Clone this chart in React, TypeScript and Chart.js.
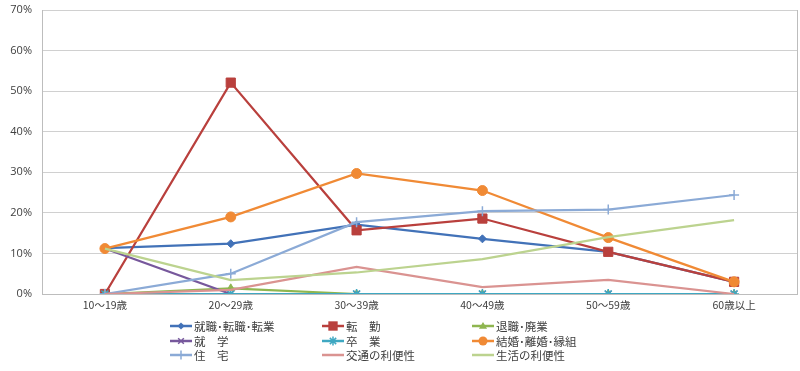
import React, { useEffect, useRef } from "react";
import { Chart, registerables } from "chart.js";

Chart.register(...registerables);

const categories = ["10～19歳", "20～29歳", "30～39歳", "40～49歳", "50～59歳", "60歳以上"];
const seriesNames = ["就職･転職･転業", "転　勤", "退職･廃業", "就　学", "卒　業", "結婚･離婚･縁組", "住　宅", "交通の利便性", "生活の利便性"];
const shushoku = [11.3, 12.4, 17.1, 13.6, 10.4, 3.0];
const tenkin = [0, 52.1, 15.7, 18.6, 10.4, 3.0];
const taishoku = [0, 1.4, 0, 0, 0, 0];
const shugaku = [11.2, 0, 0, 0, 0, 0];
const sotsugyo = [0, 0, 0, 0, 0, 0];
const kekkon = [11.2, 19.0, 29.7, 25.5, 13.9, 3.0];
const jutaku = [0, 5.0, 17.7, 20.4, 20.8, 24.4];
const kotsu = [0, 1.0, 6.7, 1.7, 3.5, 0];
const seikatsu = [11.2, 3.4, 5.3, 8.6, 14.0, 18.2];
const yTicks = [0, 10, 20, 30, 40, 50, 60, 70];

const seriesValues = [shushoku, tenkin, taishoku, shugaku, sotsugyo, kekkon, jutaku, kotsu, seikatsu];
const colors = ["#4272B8", "#B9403D", "#8FB650", "#77589C", "#3FA8C2", "#F08A35", "#8BAAD6", "#DA9391", "#BCD38F"];
const pointStyles: any[] = ["rectRot", "rect", "triangle", "crossRot", "star", "circle", "cross", false, false];
const radii = [4, 6.5, 4.5, 4.5, 5, 5, 5, 0, 0];

export default function App() {
  const ref = useRef<HTMLCanvasElement | null>(null);
  useEffect(() => {
    if (!ref.current) return;
    const borderPlugin = {
      id: "frame",
      beforeDatasetsDraw(chart: any) {
        const { ctx, chartArea: a } = chart;
        ctx.save();
        ctx.strokeStyle = "#BDBDBD";
        ctx.lineWidth = 1;
        ctx.beginPath();
        ctx.moveTo(a.right + 0.5, a.top);
        ctx.lineTo(a.right + 0.5, a.bottom);
        ctx.stroke();
        ctx.restore();
      },
      afterDraw(chart: any) {
        const { ctx } = chart;
        ctx.save();
        const colX = [170, 322, 472];
        const rowY = [326, 341, 355];
        ctx.font = "11.5px 'Noto Sans CJK JP'";
        ctx.textBaseline = "middle";
        seriesNames.forEach((name, i) => {
          const x = colX[i % 3];
          const y = rowY[Math.floor(i / 3)];
          ctx.strokeStyle = colors[i];
          ctx.lineWidth = 2.5;
          ctx.beginPath();
          ctx.moveTo(x, y);
          ctx.lineTo(x + 22, y);
          ctx.stroke();
          if (pointStyles[i]) {
            drawPt(ctx, pointStyles[i], pointStyles[i] === "rect" ? 5.5 : radii[i] * 0.9, x + 11, y, colors[i]);
          }
          ctx.fillStyle = "#404040";
          ctx.fillText(name, x + 24, y + 0.5);
        });
        ctx.restore();
      },
    };
    const chart = new Chart(ref.current, {
      type: "line",
      data: {
        labels: categories,
        datasets: seriesValues.map((vals, i) => ({
          label: seriesNames[i],
          data: vals,
          borderColor: colors[i],
          backgroundColor: colors[i],
          borderWidth: 2.25,
          pointStyle: pointStyles[i],
          pointRadius: radii[i],
          pointBorderWidth: pointStyles[i] === "crossRot" || pointStyles[i] === "cross" || pointStyles[i] === "star" ? 1.5 : 1,
          tension: 0,
          order: 8 - i,
        })),
      },
      options: {
        animation: false,
        responsive: false,
        maintainAspectRatio: false,
        layout: { autoPadding: false, padding: { top: 10, right: 3, bottom: 47, left: 0 } },
        plugins: { legend: { display: false }, tooltip: { enabled: false } },
        scales: {
          x: {
            offset: true,
            grid: { display: false, drawTicks: false },
            border: { display: true, color: "#BDBDBD" },
            ticks: { color: "#404040", font: { family: "'Noto Sans CJK JP'", size: 10.5 }, padding: 5, maxRotation: 0 },
            afterFit(s: any) { s.height = 30; s.paddingLeft = 0; s.paddingRight = 0; },
          },
          y: {
            min: 0,
            max: 70,
            afterBuildTicks(s: any) { s.ticks = yTicks.map((v) => ({ value: v })); },
            grid: { color: "#D0D0D0", lineWidth: 1, drawTicks: false },
            border: { display: true, color: "#BDBDBD" },
            ticks: {
              color: "#404040",
              font: { family: "'Open Sans'", size: 11 },
              padding: 10,
              callback: (v: any) => v + "%",
            },
            afterFit(s: any) { s.width = 42; s.paddingTop = 0; s.paddingBottom = 0; },
          },
        },
      },
      plugins: [borderPlugin],
    });
    return () => chart.destroy();
  }, []);
  return (
    <div style={{ position: "fixed", left: 0, top: 0, width: 800, height: 371, background: "#fff" }}>
      <canvas ref={ref} width={800} height={371} style={{ width: 800, height: 371, display: "block" }} />
    </div>
  );
}

function drawPt(ctx: CanvasRenderingContext2D, style: string, r: number, x: number, y: number, c: string) {
  ctx.save();
  ctx.fillStyle = c;
  ctx.strokeStyle = c;
  ctx.lineWidth = 1.5;
  ctx.beginPath();
  if (style === "rectRot") {
    ctx.moveTo(x, y - r); ctx.lineTo(x + r, y); ctx.lineTo(x, y + r); ctx.lineTo(x - r, y); ctx.closePath(); ctx.fill();
  } else if (style === "rect") {
    const s = r * 0.85;
    ctx.fillRect(x - s, y - s, 2 * s, 2 * s);
  } else if (style === "triangle") {
    ctx.moveTo(x, y - r); ctx.lineTo(x + r, y + r * 0.7); ctx.lineTo(x - r, y + r * 0.7); ctx.closePath(); ctx.fill();
  } else if (style === "circle") {
    ctx.arc(x, y, r, 0, Math.PI * 2); ctx.fill();
  } else if (style === "crossRot") {
    ctx.moveTo(x - r * 0.7, y - r * 0.7); ctx.lineTo(x + r * 0.7, y + r * 0.7);
    ctx.moveTo(x + r * 0.7, y - r * 0.7); ctx.lineTo(x - r * 0.7, y + r * 0.7); ctx.stroke();
  } else if (style === "cross") {
    ctx.moveTo(x, y - r); ctx.lineTo(x, y + r); ctx.moveTo(x - r, y); ctx.lineTo(x + r, y); ctx.stroke();
  } else if (style === "star") {
    ctx.moveTo(x, y - r); ctx.lineTo(x, y + r);
    ctx.moveTo(x - r * 0.7, y - r * 0.7); ctx.lineTo(x + r * 0.7, y + r * 0.7);
    ctx.moveTo(x + r * 0.7, y - r * 0.7); ctx.lineTo(x - r * 0.7, y + r * 0.7); ctx.stroke();
  }
  ctx.restore();
}
